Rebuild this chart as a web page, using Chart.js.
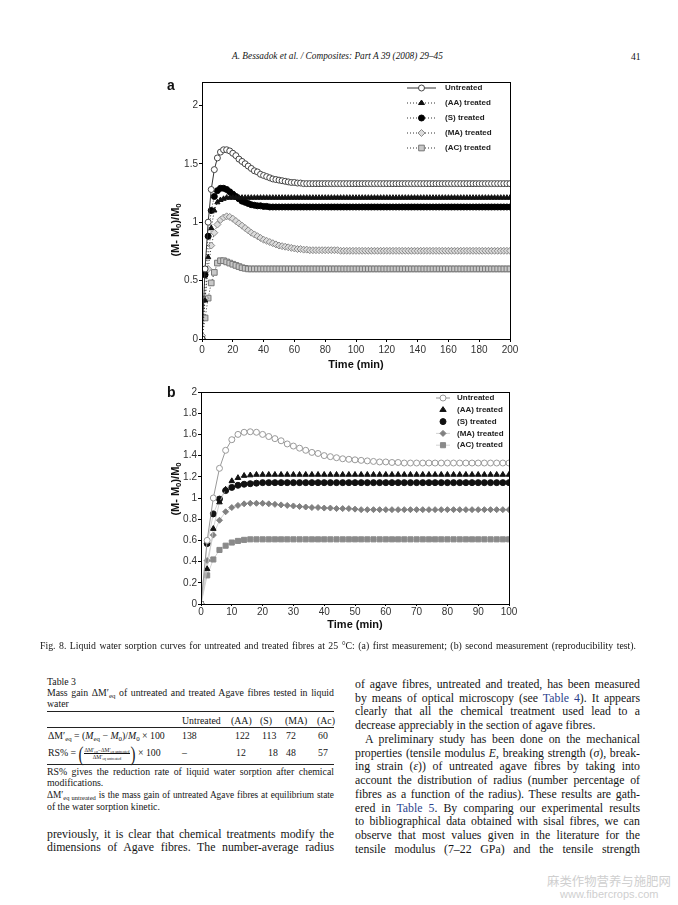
<!DOCTYPE html>
<html>
<head>
<meta charset="utf-8">
<script src="https://cdn.jsdelivr.net/npm/chart.js@4.4.0/dist/chart.umd.min.js"></script>
<style>
	body { margin:0; background:#fff; width:678px; height:905px; position:relative; overflow:hidden; color:#151515; }
	.t { position:absolute; font-family:"Liberation Serif","Times New Roman",serif; }
	.j { text-align:justify; text-align-last:justify; }
	.body { font-size:11.8px; line-height:14px; }
	.small { font-size:9.8px; line-height:12px; }
	.sans { position:absolute; z-index:3; white-space:nowrap; font-family:"Liberation Sans",Arial,sans-serif; font-weight:bold; color:#111; }
	sub { font-size:70%; vertical-align:-0.3em; line-height:0; }
	.blue { color:#2b3f8c; }
	.rule { position:absolute; left:47px; width:287px; height:0; border-top:1px solid #222; }
	.cell { position:absolute; white-space:nowrap; }
	.frac { display:inline-block; vertical-align:middle; text-align:center; font-size:5.5px; line-height:6.5px; }
	.frac span { display:block; }
	.frac .num { border-bottom:0.7px solid #111; padding:0 1px; }
	.paren { display:inline-block; font-size:15px; vertical-align:middle; transform:scaleY(1.35); }
	.chart { position:absolute; z-index:1; }
</style>
</head>
<body>

<div class="t" style="left:232px;top:51px;font-size:9.3px;font-style:italic;white-space:nowrap;">A. Bessadok et al. / Composites: Part A 39 (2008) 29–45</div>
<div class="t" style="left:631px;top:51px;font-size:9.6px;">41</div>

<div class="sans" style="left:167px;top:77px;font-size:14px;">a</div>
<div class="chart" style="left:150px;top:72px;width:375px;height:300px;"><canvas id="chartA" width="375" height="300"></canvas></div>
<div class="sans" style="left:125px;top:223px;width:100px;text-align:center;font-size:11px;line-height:14px;transform:rotate(-90deg);">(M- M<sub>0</sub>)/M<sub>0</sub></div>

<div class="sans" style="left:167px;top:384px;font-size:14px;">b</div>
<div class="chart" style="left:150px;top:382px;width:375px;height:260px;"><canvas id="chartB" width="375" height="260"></canvas></div>
<div class="sans" style="left:125px;top:482px;width:100px;text-align:center;font-size:11px;line-height:14px;transform:rotate(-90deg);">(M- M<sub>0</sub>)/M<sub>0</sub></div>

<div class="t j" style="left:40px;top:640px;width:596px;font-size:9.8px;z-index:2;">Fig. 8. Liquid water sorption curves for untreated and treated fibres at 25 °C: (a) first measurement; (b) second measurement (reproducibility test).</div>

<!-- Table 3 -->
<div class="t small" style="left:47px;top:676px;">Table 3</div>
<div class="t small j" style="left:47px;top:687px;width:287px;">Mass gain ΔM′<sub>eq</sub> of untreated and treated Agave fibres tested in liquid</div>
<div class="t small" style="left:47px;top:698px;">water</div>
<div class="rule" style="top:711px;border-top-width:1.5px;"></div>
<div class="t small" style="left:0;top:715px;width:678px;">
	<span class="cell" style="left:182px;">Untreated</span>
	<span class="cell" style="left:231px;">(AA)</span>
	<span class="cell" style="left:260px;">(S)</span>
	<span class="cell" style="left:285px;">(MA)</span>
	<span class="cell" style="left:317px;">(Ac)</span>
</div>
<div class="rule" style="top:727px;border-top-width:0.8px;"></div>
<div class="t small" style="left:0;top:730px;width:678px;">
	<span class="cell" style="left:48px;">ΔM′<sub>eq</sub> = (<i>M</i><sub>eq</sub> − <i>M</i><sub>0</sub>)/<i>M</i><sub>0</sub> × 100</span>
	<span class="cell" style="left:182px;">138</span>
	<span class="cell" style="left:235px;">122</span>
	<span class="cell" style="left:262px;">113</span>
	<span class="cell" style="left:286px;">72</span>
	<span class="cell" style="left:318px;">60</span>
</div>
<div class="t small" style="left:0;top:747px;width:678px;">
	<span class="cell" style="left:48px;top:-6px;line-height:24px;">RS% = <span class="paren">(</span><span class="frac"><span class="num">ΔM′<sub>eq</sub>−ΔM′<sub>eq untreated</sub></span><span>ΔM′<sub>eq untreated</sub></span></span><span class="paren">)</span> × 100</span>
	<span class="cell" style="left:182px;">–</span>
	<span class="cell" style="left:236px;">12</span>
	<span class="cell" style="left:268px;">18</span>
	<span class="cell" style="left:286px;">48</span>
	<span class="cell" style="left:318px;">57</span>
</div>
<div class="rule" style="top:764px;border-top-width:0.8px;"></div>
<div class="t small j" style="left:47px;top:766px;width:287px;">RS% gives the reduction rate of liquid water sorption after chemical</div>
<div class="t small" style="left:47px;top:777px;">modifications.</div>
<div class="t small j" style="left:47px;top:789px;width:287px;font-size:9.3px;">ΔM′<sub>eq untreated</sub> is the mass gain of untreated Agave fibres at equilibrium state</div>
<div class="t small" style="left:47px;top:801px;">of the water sorption kinetic.</div>

<div class="t body j" style="left:47px;top:827px;width:287px;">previously, it is clear that chemical treatments modify the</div>
<div class="t body j" style="left:47px;top:840px;width:287px;">dimensions of Agave fibres. The number-average radius</div>

<!-- right column -->
<div class="t body j" style="left:355px;top:677px;width:285px;">of agave fibres, untreated and treated, has been measured</div>
<div class="t body j" style="left:355px;top:691px;width:285px;">by means of optical microscopy (see <span class="blue">Table 4</span>). It appears</div>
<div class="t body j" style="left:355px;top:704px;width:285px;">clearly that all the chemical treatment used lead to a</div>
<div class="t body" style="left:355px;top:718px;width:285px;">decrease appreciably in the section of agave fibres.</div>
<div class="t body j" style="left:365px;top:732px;width:275px;">A preliminary study has been done on the mechanical</div>
<div class="t body j" style="left:355px;top:746px;width:285px;">properties (tensile modulus <i>E</i>, breaking strength (<i>σ</i>), break-</div>
<div class="t body j" style="left:355px;top:759px;width:285px;">ing strain (<i>ε</i>)) of untreated agave fibres by taking into</div>
<div class="t body j" style="left:355px;top:773px;width:285px;">account the distribution of radius (number percentage of</div>
<div class="t body j" style="left:355px;top:787px;width:285px;">fibres as a function of the radius). These results are gath-</div>
<div class="t body j" style="left:355px;top:801px;width:285px;">ered in <span class="blue">Table 5</span>. By comparing our experimental results</div>
<div class="t body j" style="left:355px;top:814px;width:285px;">to bibliographical data obtained with sisal fibres, we can</div>
<div class="t body j" style="left:355px;top:828px;width:285px;">observe that most values given in the literature for the</div>
<div class="t body j" style="left:355px;top:842px;width:285px;">tensile modulus (7–22 GPa) and the tensile strength</div>

<div style="position:absolute;left:547px;top:872px;font-family:'Noto Sans CJK SC',sans-serif;font-size:12.4px;color:#cfcfcf;white-space:nowrap;">麻类作物营养与施肥网</div>
<div style="position:absolute;left:560px;top:888px;font-family:'Liberation Sans',Arial,sans-serif;font-size:11px;color:#cfcfcf;white-space:nowrap;">www.fibercrops.com</div>

<script>
// values — time in min, mass gain (M-M0)/M0
const seriesNames = ['Untreated', '(AA) treated', '(S) treated', '(MA) treated', '(AC) treated'];

// (a) first measurement, one point every 2 min
const timeA = [
	0,2,4,6,8,10,12,14,16,18,
	20,22,24,26,28,30,32,34,36,38,
	40,42,44,46,48,50,52,54,56,58,
	60,62,64,66,68,70,72,74,76,78,
	80,82,84,86,88,90,92,94,96,98,
	100,102,104,106,108,110,112,114,116,118,
	120,122,124,126,128,130,132,134,136,138,
	140,142,144,146,148,150,152,154,156,158,
	160,162,164,166,168,170,172,174,176,178,
	180,182,184,186,188,190,192,194,196,198,
	200
];
const untreatedA = [
	0,0.6,1.0,1.28,1.45,1.55,1.6,1.62,1.62,1.61,
	1.59,1.57,1.54,1.52,1.5,1.48,1.46,1.44,1.43,1.41,
	1.4,1.39,1.38,1.37,1.365,1.36,1.355,1.35,1.345,1.34,
	1.34,1.335,1.335,1.33,1.33,1.33,1.33,1.33,1.33,1.33,
	1.33,1.33,1.33,1.33,1.33,1.33,1.33,1.33,1.33,1.33,
	1.33,1.33,1.33,1.33,1.33,1.33,1.33,1.33,1.33,1.33,
	1.33,1.33,1.33,1.33,1.33,1.33,1.33,1.33,1.33,1.33,
	1.33,1.33,1.33,1.33,1.33,1.33,1.33,1.33,1.33,1.33,
	1.33,1.33,1.33,1.33,1.33,1.33,1.33,1.33,1.33,1.33,
	1.33,1.33,1.33,1.33,1.33,1.33,1.33,1.33,1.33,1.33,
	1.33
];
const aaA = [
	0,0.33,0.7,0.95,1.1,1.17,1.19,1.2,1.21,1.21,
	1.21,1.21,1.21,1.21,1.21,1.21,1.21,1.21,1.21,1.21,
	1.21,1.21,1.21,1.21,1.21,1.21,1.21,1.21,1.21,1.21,
	1.21,1.21,1.21,1.21,1.21,1.21,1.21,1.21,1.21,1.21,
	1.21,1.21,1.21,1.21,1.21,1.21,1.21,1.21,1.21,1.21,
	1.21,1.21,1.21,1.21,1.21,1.21,1.21,1.21,1.21,1.21,
	1.21,1.21,1.21,1.21,1.21,1.21,1.21,1.21,1.21,1.21,
	1.21,1.21,1.21,1.21,1.21,1.21,1.21,1.21,1.21,1.21,
	1.21,1.21,1.21,1.21,1.21,1.21,1.21,1.21,1.21,1.21,
	1.21,1.21,1.21,1.21,1.21,1.21,1.21,1.21,1.21,1.21,
	1.21
];
const sA = [
	0,0.55,0.88,1.1,1.22,1.27,1.29,1.29,1.28,1.26,
	1.24,1.22,1.2,1.18,1.17,1.16,1.15,1.145,1.14,1.14,
	1.135,1.135,1.13,1.13,1.13,1.13,1.13,1.13,1.13,1.13,
	1.13,1.13,1.13,1.13,1.13,1.13,1.13,1.13,1.13,1.13,
	1.13,1.13,1.13,1.13,1.13,1.13,1.13,1.13,1.13,1.13,
	1.13,1.13,1.13,1.13,1.13,1.13,1.13,1.13,1.13,1.13,
	1.13,1.13,1.13,1.13,1.13,1.13,1.13,1.13,1.13,1.13,
	1.13,1.13,1.13,1.13,1.13,1.13,1.13,1.13,1.13,1.13,
	1.13,1.13,1.13,1.13,1.13,1.13,1.13,1.13,1.13,1.13,
	1.13,1.13,1.13,1.13,1.13,1.13,1.13,1.13,1.13,1.13,
	1.13
];
const maA = [
	0.03,0.35,0.6,0.8,0.91,0.98,1.02,1.04,1.05,1.045,
	1.03,1.01,0.99,0.97,0.95,0.93,0.91,0.895,0.88,0.865,
	0.85,0.84,0.83,0.82,0.81,0.8,0.795,0.79,0.785,0.78,
	0.775,0.77,0.77,0.765,0.765,0.76,0.76,0.76,0.76,0.76,
	0.76,0.76,0.76,0.76,0.76,0.755,0.755,0.755,0.755,0.755,
	0.755,0.755,0.755,0.755,0.755,0.755,0.755,0.755,0.755,0.755,
	0.755,0.755,0.755,0.755,0.755,0.755,0.755,0.755,0.755,0.755,
	0.755,0.755,0.755,0.755,0.755,0.755,0.755,0.755,0.755,0.755,
	0.755,0.755,0.755,0.755,0.755,0.755,0.755,0.755,0.755,0.755,
	0.755,0.755,0.755,0.755,0.755,0.755,0.755,0.755,0.755,0.755,
	0.755
];
const acA = [
	0,0.18,0.35,0.48,0.57,0.65,0.67,0.67,0.66,0.65,
	0.64,0.63,0.62,0.61,0.605,0.6,0.6,0.6,0.6,0.6,
	0.6,0.6,0.6,0.6,0.6,0.6,0.6,0.6,0.6,0.6,
	0.6,0.6,0.6,0.6,0.6,0.6,0.6,0.6,0.6,0.6,
	0.6,0.6,0.6,0.6,0.6,0.6,0.6,0.6,0.6,0.6,
	0.6,0.6,0.6,0.6,0.6,0.6,0.6,0.6,0.6,0.6,
	0.6,0.6,0.6,0.6,0.6,0.6,0.6,0.6,0.6,0.6,
	0.6,0.6,0.6,0.6,0.6,0.6,0.6,0.6,0.6,0.6,
	0.6,0.6,0.6,0.6,0.6,0.6,0.6,0.6,0.6,0.6,
	0.6,0.6,0.6,0.6,0.6,0.6,0.6,0.6,0.6,0.6,
	0.6
];

// (b) second measurement, reproducibility test
const timeB = [
	0,2,4,6,8,10,12,14,16,18,
	20,22,24,26,28,30,32,34,36,38,
	40,42,44,46,48,50,52,54,56,58,
	60,62,64,66,68,70,72,74,76,78,
	80,82,84,86,88,90,92,94,96,98,
	100
];
const untreatedB = [
	0,0.6,1.0,1.28,1.45,1.55,1.6,1.62,1.625,1.62,
	1.6,1.58,1.56,1.54,1.51,1.49,1.47,1.45,1.43,1.42,
	1.4,1.39,1.38,1.37,1.365,1.36,1.355,1.35,1.345,1.34,
	1.34,1.335,1.335,1.33,1.33,1.33,1.33,1.33,1.33,1.33,
	1.33,1.33,1.33,1.33,1.33,1.33,1.33,1.33,1.33,1.33,
	1.33
];
const aaB = [
	0,0.33,0.71,0.96,1.08,1.16,1.19,1.21,1.215,1.22,
	1.22,1.22,1.22,1.22,1.22,1.22,1.22,1.22,1.22,1.22,
	1.22,1.22,1.22,1.22,1.22,1.22,1.22,1.22,1.22,1.22,
	1.22,1.22,1.22,1.22,1.22,1.22,1.22,1.22,1.22,1.22,
	1.22,1.22,1.22,1.22,1.22,1.22,1.22,1.22,1.22,1.22,
	1.22
];
const sB = [
	0,0.57,0.85,0.99,1.07,1.1,1.12,1.13,1.135,1.14,
	1.145,1.145,1.145,1.145,1.145,1.145,1.145,1.145,1.145,1.145,
	1.145,1.145,1.145,1.145,1.145,1.145,1.145,1.145,1.145,1.145,
	1.145,1.145,1.145,1.145,1.145,1.145,1.145,1.145,1.145,1.145,
	1.145,1.145,1.145,1.145,1.145,1.145,1.145,1.145,1.145,1.145,
	1.145
];
const maB = [
	0,0.41,0.65,0.79,0.87,0.91,0.93,0.945,0.95,0.95,
	0.95,0.945,0.94,0.935,0.93,0.925,0.92,0.915,0.91,0.91,
	0.905,0.905,0.9,0.9,0.9,0.895,0.89,0.89,0.89,0.89,
	0.89,0.89,0.89,0.89,0.89,0.89,0.89,0.89,0.89,0.89,
	0.89,0.89,0.89,0.89,0.89,0.89,0.89,0.89,0.89,0.89,
	0.89
];
const acB = [
	0,0.27,0.42,0.51,0.55,0.58,0.595,0.605,0.61,0.61,
	0.61,0.61,0.61,0.61,0.61,0.61,0.61,0.61,0.61,0.61,
	0.61,0.61,0.61,0.61,0.61,0.61,0.61,0.61,0.61,0.61,
	0.61,0.61,0.61,0.61,0.61,0.61,0.61,0.61,0.61,0.61,
	0.61,0.61,0.61,0.61,0.61,0.61,0.61,0.61,0.61,0.61,
	0.61
];

const xTicksA = [0,20,40,60,80,100,120,140,160,180,200];
const yTicksA = [0,0.5,1,1.5,2];
const xTicksB = [0,10,20,30,40,50,60,70,80,90,100];
const yTicksB = [0,0.2,0.4,0.6,0.8,1,1.2,1.4,1.6,1.8,2];

// marker drawing for the in-plot legend
function drawMarker(ctx, style, x, y, r, fill, stroke) {
	ctx.beginPath();
	if (style === 'circle') {
		ctx.arc(x, y, r, 0, Math.PI*2);
	} else if (style === 'triangle') {
		const h = r*1.5;
		ctx.moveTo(x, y - h*0.66);
		ctx.lineTo(x + r, y + h*0.34);
		ctx.lineTo(x - r, y + h*0.34);
		ctx.closePath();
	} else if (style === 'rect') {
		const s = r*Math.SQRT1_2;
		ctx.rect(x-s, y-s, 2*s, 2*s);
	} else if (style === 'rectRot') {
		ctx.moveTo(x, y-r); ctx.lineTo(x+r, y); ctx.lineTo(x, y+r); ctx.lineTo(x-r, y);
		ctx.closePath();
	}
	ctx.fillStyle = fill;
	ctx.fill();
	ctx.lineWidth = 1;
	ctx.strokeStyle = stroke;
	ctx.stroke();
}

const framePlugin = {
	id: 'frame',
	afterDraw(chart) {
		const {ctx, chartArea: a} = chart;
		ctx.save();
		ctx.strokeStyle = '#000';
		ctx.lineWidth = 1;
		ctx.strokeRect(Math.round(a.left)+0.5, Math.round(a.top)+0.5, Math.round(a.right-a.left), Math.round(a.bottom-a.top));
		ctx.restore();
	}
};

const boxLegend = {
	id: 'boxLegend',
	afterDraw(chart, args, opts) {
		const ctx = chart.ctx;
		ctx.save();
		ctx.font = 'bold 8px "Liberation Sans", Arial, sans-serif';
		ctx.textBaseline = 'middle';
		chart.data.datasets.forEach((ds, i) => {
			const y = opts.y + i*opts.dy;
			if (ds.legendLine !== false) {
				ctx.strokeStyle = ds.borderColor;
				ctx.lineWidth = ds.borderWidth;
				ctx.setLineDash(ds.borderDash || []);
				ctx.beginPath();
				ctx.moveTo(opts.x1, y);
				ctx.lineTo(opts.x2, y);
				ctx.stroke();
				ctx.setLineDash([]);
			}
			drawMarker(ctx, ds.pointStyle, (opts.x1+opts.x2)/2, y, ds.pointRadius, ds.pointBackgroundColor, ds.pointBorderColor);
			ctx.fillStyle = '#222';
			ctx.fillText(ds.label, opts.tx, y);
		});
		ctx.restore();
	}
};

function series(label, time, vals, style) {
	return Object.assign({
		label: label,
		data: time.map((t, i) => ({x: t, y: vals[i]})),
		pointBorderWidth: 1,
		tension: 0
	}, style);
}

function fmt(v) { return String(+v.toFixed(2)); }

const tickFont = { family: '"Liberation Sans", Arial', size: 10 };

function makeChart(id, datasets, xTicks, yTicks, xMax, yMax, geo, legend) {
	new Chart(document.getElementById(id), {
		type: 'line',
		data: { datasets },
		options: {
			responsive: false,
			animation: false,
			layout: { padding: { top: geo.top, right: geo.right, left: 0, bottom: 0 } },
			plugins: { legend: { display: false }, tooltip: { enabled: false }, boxLegend: legend },
			scales: {
				x: {
					type: 'linear', min: 0, max: xMax,
					afterBuildTicks: s => { s.ticks = xTicks.map(v => ({value: v})); },
					afterFit: s => { s.height = geo.xh; },
					grid: { drawOnChartArea: false, tickLength: geo.tick, color: '#000' },
					border: { color: '#000', width: 1 },
					title: { display: true, text: 'Time (min)', color: '#111',
						font: { family: '"Liberation Sans", Arial', size: 11, weight: 'bold' },
						padding: { top: 0, bottom: geo.tpad } },
					ticks: { padding: geo.xpad, color: '#333', font: tickFont, maxRotation: 0, callback: fmt }
				},
				y: {
					min: 0, max: yMax,
					afterBuildTicks: s => { s.ticks = yTicks.map(v => ({value: v})); },
					afterFit: s => { s.width = geo.yw; },
					grid: { drawOnChartArea: false, tickLength: 3, color: '#000' },
					border: { color: '#000', width: 1 },
					ticks: { padding: 1, color: '#333', font: tickFont, callback: fmt }
				}
			}
		},
		plugins: [framePlugin, boxLegend]
	});
}

const dotted = { borderColor: '#333', borderWidth: 1, borderDash: [1, 2] };

makeChart('chartA', [
	series(seriesNames[0], timeA, untreatedA, { borderColor: '#333', borderWidth: 1, pointStyle: 'circle', pointRadius: 3, pointBackgroundColor: '#fff', pointBorderColor: '#444' }),
	series(seriesNames[1], timeA, aaA, Object.assign({ pointStyle: 'triangle', pointRadius: 3, pointBackgroundColor: '#111', pointBorderColor: '#111' }, dotted)),
	series(seriesNames[2], timeA, sA, Object.assign({ pointStyle: 'circle', pointRadius: 3, pointBackgroundColor: '#000', pointBorderColor: '#000' }, dotted)),
	series(seriesNames[3], timeA, maA, Object.assign({ pointStyle: 'rectRot', pointRadius: 3.5, pointBackgroundColor: '#dcdcdc', pointBorderColor: '#8a8a8a' }, dotted)),
	series(seriesNames[4], timeA, acA, Object.assign({ pointStyle: 'rect', pointRadius: 4, pointBackgroundColor: '#c8c8c8', pointBorderColor: '#777' }, dotted))
], xTicksA, yTicksA, 200, 2.2,
	{ top: 10, right: 15, xh: 33, yw: 52, tick: 3, xpad: 2, tpad: 0.4 },
	{ y: 16, dy: 15, x1: 257, x2: 286, tx: 295 });

const faint = { borderColor: '#c8c8c8', borderWidth: 0.8 };

makeChart('chartB', [
	series(seriesNames[0], timeB, untreatedB, { borderColor: '#999', borderWidth: 1, pointStyle: 'circle', pointRadius: 3, pointBackgroundColor: '#fff', pointBorderColor: '#999' }),
	series(seriesNames[1], timeB, aaB, Object.assign({ pointStyle: 'triangle', pointRadius: 3.2, pointBackgroundColor: '#111', pointBorderColor: '#111', legendLine: false }, faint)),
	series(seriesNames[2], timeB, sB, Object.assign({ pointStyle: 'circle', pointRadius: 3, pointBackgroundColor: '#111', pointBorderColor: '#111', legendLine: false }, faint)),
	series(seriesNames[3], timeB, maB, Object.assign({ pointStyle: 'rectRot', pointRadius: 3, pointBackgroundColor: '#808080', pointBorderColor: '#808080' }, faint)),
	series(seriesNames[4], timeB, acB, Object.assign({ pointStyle: 'rect', pointRadius: 3.6, pointBackgroundColor: '#8a8a8a', pointBorderColor: '#8a8a8a' }, faint))
], xTicksB, yTicksB, 100, 2,
	{ top: 10, right: 16, xh: 38, yw: 51, tick: 2, xpad: 0, tpad: 10.4 },
	{ y: 16, dy: 11.8, x1: 286, x2: 300, tx: 307 });
</script>
</body>
</html>
